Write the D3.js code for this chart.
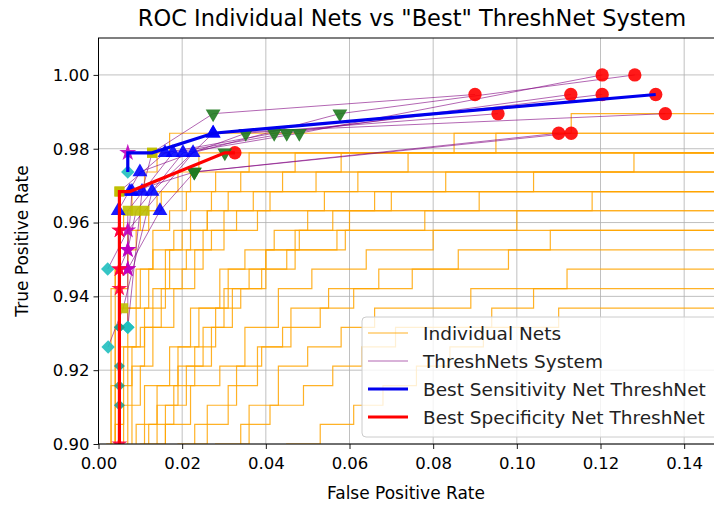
<!DOCTYPE html>
<html>
<head>
<meta charset="utf-8">
<script src="https://cdn.jsdelivr.net/npm/d3@7"></script>
<style>
body { margin: 0; background: #fff; }
svg { font-family: "DejaVu Sans", sans-serif; }
.grid line { stroke: #b0b0b0; stroke-width: 0.8; }
.axis path { display: none; }
.axis line { stroke: #000; stroke-width: 0.9; }
.axis text { font-size: 16.5px; fill: #000; font-family: "DejaVu Sans", sans-serif; }
.net { fill: none; stroke: #ffa500; stroke-width: 1.2; opacity: 0.85; }
.sys { fill: none; stroke: #800080; stroke-width: 1; opacity: 0.6; }
.best { fill: none; stroke-width: 3.2; }
</style>
</head>
<body>
<script>
var xTicks = [0, 0.02, 0.04, 0.06, 0.08, 0.10, 0.12, 0.14]
var yTicks = [0.90, 0.92, 0.94, 0.96, 0.98, 1.00]

// individual nets, ROC corners [fpr, tpr] (step after)
var nets = [
  [[.003,.88],[.003,.9421],[.004,.9474],[.005,.9579],[.006,.9632],[.008,.9684],[.011,.9737],[.014,.9789],[.017,.9842],[.113,.9895],[.16,.9895]],
  [[.004,.88],[.004,.9316],[.005,.9421],[.007,.9526],[.009,.9579],[.012,.9632],[.015,.9684],[.019,.9737],[.024,.9789],[.085,.9842],[.16,.9842]],
  [[.005,.88],[.005,.9263],[.007,.9368],[.010,.9474],[.013,.9579],[.017,.9632],[.021,.9684],[.028,.9737],[.036,.9789],[.095,.9842],[.16,.9842]],
  [[.003,.88],[.003,.9158],[.006,.9263],[.009,.9368],[.012,.9474],[.016,.9526],[.020,.9579],[.026,.9632],[.031,.9684],[.044,.9737],[.058,.9789],[.16,.9789]],
  [[.006,.88],[.006,.9105],[.010,.9211],[.013,.9316],[.018,.9421],[.023,.9526],[.030,.9632],[.037,.9684],[.052,.9737],[.074,.9789],[.16,.9789]],
  [[.008,.88],[.008,.9211],[.011,.9316],[.015,.9421],[.020,.9474],[.025,.9579],[.033,.9632],[.041,.9684],[.062,.9737],[.128,.9789],[.16,.9789]],
  [[.009,.88],[.009,.9053],[.014,.9158],[.019,.9263],[.024,.9368],[.029,.9474],[.035,.9526],[.042,.9579],[.050,.9632],[.066,.9684],[.083,.9737],[.16,.9737]],
  [[.010,.88],[.010,.9000],[.016,.9105],[.021,.9211],[.027,.9316],[.032,.9421],[.039,.9474],[.047,.9579],[.056,.9632],[.070,.9684],[.104,.9737],[.16,.9737]],
  [[.004,.88],[.004,.9474],[.007,.9579],[.010,.9632],[.014,.9684],[.022,.9737],[.16,.9737]],
  [[.012,.88],[.012,.9053],[.018,.9158],[.023,.9263],[.028,.9368],[.034,.9421],[.040,.9526],[.048,.9579],[.060,.9632],[.091,.9684],[.16,.9684]],
  [[.007,.88],[.007,.9263],[.011,.9368],[.016,.9474],[.021,.9526],[.027,.9579],[.038,.9632],[.054,.9684],[.16,.9684]],
  [[.014,.88],[.014,.9105],[.019,.9211],[.025,.9316],[.030,.9421],[.036,.9474],[.045,.9526],[.057,.9579],[.078,.9632],[.118,.9684],[.16,.9684]],
  [[.016,.88],[.016,.9053],[.022,.9158],[.029,.9211],[.035,.9316],[.043,.9421],[.051,.9474],[.064,.9526],[.080,.9579],[.100,.9632],[.16,.9632]],
  [[.005,.88],[.005,.9368],[.009,.9474],[.013,.9526],[.018,.9579],[.026,.9632],[.16,.9632]],
  [[.019,.88],[.019,.9000],[.026,.9105],[.033,.9211],[.039,.9263],[.046,.9368],[.055,.9421],[.067,.9474],[.086,.9526],[.108,.9579],[.16,.9579]],
  [[.011,.88],[.011,.9158],[.017,.9263],[.022,.9368],[.031,.9474],[.040,.9526],[.059,.9579],[.16,.9579]],
  [[.023,.88],[.023,.9053],[.031,.9158],[.038,.9263],[.044,.9316],[.053,.9368],[.061,.9421],[.075,.9474],[.098,.9526],[.16,.9526]],
  [[.028,.88],[.028,.9000],[.036,.9105],[.043,.9211],[.050,.9263],[.058,.9316],[.066,.9368],[.089,.9421],[.112,.9474],[.16,.9474]],
  [[.034,.88],[.034,.9053],[.041,.9105],[.049,.9158],[.056,.9211],[.063,.9263],[.071,.9316],[.094,.9368],[.104,.9421],[.16,.9421]],
  [[.045,.88],[.045,.9000],[.053,.9053],[.061,.9105],[.068,.9158],[.076,.9211],[.084,.9263],[.092,.9316],[.110,.9368],[.16,.9368]],
  [[.002,.88],[.002,.9000],[.004,.9053],[.006,.9158],[.008,.9263],[.010,.9316],[.013,.9421],[.017,.9526],[.022,.9632],[.027,.9684],[.034,.9737],[.047,.9789],[.16,.9789]]
]

// threshnet systems: [marker kind, fpr, tpr]
var systems = [
  [[0,.1282,1.0],[1,.0577,.9895],[2,.0226,.9789],[3,.011,.9632],[5,.007,.9579],[4,.0022,.9474]],
  [[0,.1204,1.0],[1,.048,.9842],[2,.0202,.9789],[3,.009,.9632],[5,.007,.9526]],
  [[0,.0900,.9947],[1,.0274,.9895],[3,.0128,.9789],[2,.0104,.9684],[4,.007,.9316]],
  [[0,.1129,.9947],[1,.045,.9842],[2,.0178,.9789],[3,.007,.9632],[5,.007,.9474]],
  [[0,.1204,.9947],[1,.042,.9842],[2,.0159,.9789],[3,.005,.9684],[7,.005,.9316]],
  [[0,.0955,.9895],[1,.0352,.9842],[2,.0099,.9737],[2,.0047,.9632],[6,.005,.9579]],
  [[0,.1355,.9895],[2,.0274,.9842],[2,.0128,.9684],[3,.0059,.9368],[4,.0023,.9263]],
  [[0,.110,.9842],[1,.0229,.9737],[2,.0147,.9632],[5,.007,.9474],[4,.007,.9316]],
  [[0,.113,.9842],[1,.0229,.9737],[2,.0080,.9684],[5,.007,.9526],[6,.005,.9474]]
]
var bestSens = [[0,.1332,.9947],[2,.0274,.9842],[3,.0128,.9789],[5,.007,.9789],[4,.007,.9737]]
var bestSpec = [[0,.0326,.9789],[1,.0302,.9789],[2,.0075,.9684],[3,.005,.9684],[6,.005,.9579],[6,.005,.9474],[6,.005,.9421],[7,.005,.9316],[7,.005,.9211],[7,.005,.9158],[7,.005,.9105],[6,.005,.90],[-1,.005,.88]]

var legendLabels = ["Individual Nets", "ThreshNets System", "Best Sensitivity Net ThreshNet", "Best Specificity Net ThreshNet"]

var markerStyle = {
  0: {type: d3.symbolCircle, size: 140, fill: "#ff0000", rot: 0},
  1: {type: d3.symbolTriangle, size: 95, fill: "#1f7a1f", rot: 180},
  2: {type: d3.symbolTriangle, size: 95, fill: "#0000ff", rot: 0},
  3: {type: d3.symbolSquare, size: 100, fill: "#bfbf00", rot: 0},
  4: {type: d3.symbolSquare, size: 90, fill: "#1fbfbf", rot: 45},
  5: {type: d3.symbolStar, size: 90, fill: "#bf00bf", rot: 0},
  6: {type: d3.symbolStar, size: 80, fill: "#ff0044", rot: 0},
  7: {type: d3.symbolSquare, size: 60, fill: "#2a9a8a", rot: 45}
}

var plotL = 98.5, plotR = 726, plotT = 38, plotB = 444
var x = d3.scaleLinear().domain([0, 0.15]).range([plotL, plotR])
var y = d3.scaleLinear().domain([0.90, 1.01]).range([plotB, plotT])

var svg = d3.select("body").append("svg").attr("width", 714).attr("height", 506)

svg.append("clipPath").attr("id", "plot")
    .append("rect").attr("x", plotL).attr("y", plotT).attr("width", plotR - plotL).attr("height", plotB - plotT)

// GRID
var grid = svg.append("g").attr("class", "grid")
grid.selectAll("line.gx").data(xTicks).enter().append("line")
    .attr("x1", function(d) { return x(d) }).attr("x2", function(d) { return x(d) })
    .attr("y1", plotT).attr("y2", plotB)
grid.selectAll("line.gy").data(yTicks).enter().append("line")
    .attr("y1", function(d) { return y(d) }).attr("y2", function(d) { return y(d) })
    .attr("x1", plotL).attr("x2", plotR)

var plot = svg.append("g").attr("clip-path", "url(#plot)")

//INDIVIDUAL NETS
var stepLine = d3.line()
    .x(function(d) { return x(d[0]) })
    .y(function(d) { return y(d[1]) })
    .curve(d3.curveStepAfter)
plot.selectAll("path.net").data(nets).enter().append("path")
    .attr("class", "net").attr("d", stepLine)

//THRESHNET SYSTEMS
var sysLine = d3.line()
    .x(function(d) { return x(d[1]) })
    .y(function(d) { return y(d[2]) })
plot.selectAll("path.sys").data(systems).enter().append("path")
    .attr("class", "sys").attr("d", sysLine)

//MARKERS
var allPts = [].concat.apply([], systems).concat(bestSens).concat(bestSpec).filter(function(d) { return d[0] >= 0 })
plot.selectAll("path.mk").data(allPts).enter().append("path")
    .attr("class", "mk")
    .attr("d", function(d) { var s = markerStyle[d[0]]; return d3.symbol().type(s.type).size(s.size)() })
    .attr("transform", function(d) { return "translate(" + x(d[1]) + "," + y(d[2]) + ") rotate(" + markerStyle[d[0]].rot + ")" })
    .attr("fill", function(d) { return markerStyle[d[0]].fill })
    .attr("opacity", 0.9)

//BEST LINES
plot.append("path").datum(bestSens).attr("class", "best").attr("stroke", "#0000ee").attr("d", sysLine)
plot.append("path").datum(bestSpec).attr("class", "best").attr("stroke", "#ff0000").attr("d", sysLine)

// FRAME
svg.append("rect").attr("x", plotL).attr("y", plotT).attr("width", plotR - plotL).attr("height", plotB - plotT)
    .attr("fill", "none").attr("stroke", "#000").attr("stroke-width", 1)

// AXES
svg.append("g").attr("class", "axis").attr("transform", "translate(0," + plotB + ")")
    .call(d3.axisBottom(x).tickValues(xTicks).tickFormat(d3.format(".2f")).tickSize(5).tickPadding(8))
svg.append("g").attr("class", "axis").attr("transform", "translate(" + plotL + ",0)")
    .call(d3.axisLeft(y).tickValues(yTicks).tickFormat(d3.format(".2f")).tickSize(5).tickPadding(4))

// TITLE + LABELS
svg.append("text").attr("x", 412).attr("y", 26).attr("text-anchor", "middle")
    .attr("font-size", "22.5px").text('ROC Individual Nets vs "Best" ThreshNet System')
svg.append("text").attr("x", 406).attr("y", 499).attr("text-anchor", "middle")
    .attr("font-size", "17px").text("False Positive Rate")
svg.append("text").attr("transform", "translate(28,241) rotate(-90)").attr("text-anchor", "middle")
    .attr("font-size", "17px").text("True Positive Rate")

// LEGEND
var legend = svg.append("g").attr("transform", "translate(362,317)")
legend.append("rect").attr("width", 370).attr("height", 120).attr("rx", 4)
    .attr("fill", "#fff").attr("fill-opacity", 0.8).attr("stroke", "#cccccc")
var legendStyle = [
  {stroke: "#ffa500", w: 1.2, op: 0.85},
  {stroke: "#800080", w: 1, op: 0.6},
  {stroke: "#0000ee", w: 3.2, op: 1},
  {stroke: "#ff0000", w: 3.2, op: 1}
]
var rows = legend.selectAll("g.row").data(legendLabels).enter().append("g")
    .attr("transform", function(d, i) { return "translate(0," + (16 + i * 28) + ")" })
rows.append("line").attr("x1", 6).attr("x2", 46)
    .attr("stroke", function(d, i) { return legendStyle[i].stroke })
    .attr("stroke-width", function(d, i) { return legendStyle[i].w })
    .attr("opacity", function(d, i) { return legendStyle[i].op })
rows.append("text").attr("x", 61).attr("y", 6.5).attr("font-size", "18.5px").attr("fill", "#222").text(function(d) { return d })
</script>
</body>
</html>
